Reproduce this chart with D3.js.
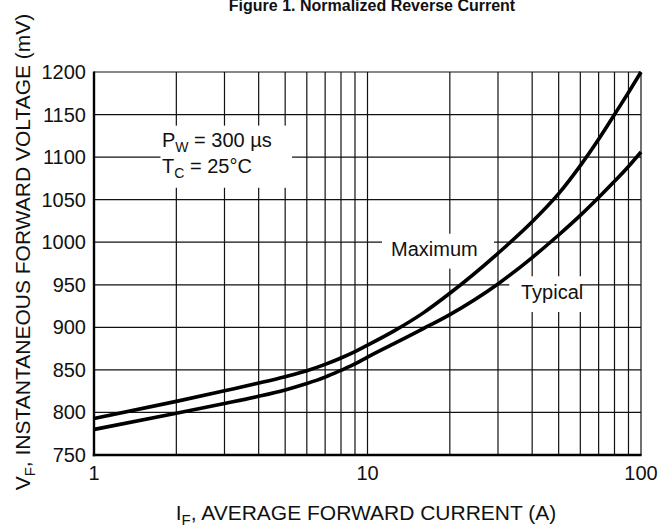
<!DOCTYPE html>
<html>
<head>
<meta charset="utf-8">
<script src="https://cdn.jsdelivr.net/npm/d3@7"></script>
<style>
  html, body { margin: 0; padding: 0; background: #fff; }
  svg { display: block; font-family: "Liberation Sans", Arial, Helvetica, sans-serif; }
</style>
</head>
<body>
<svg id="chart" width="663" height="529"></svg>
<script>
// ---- data ----
const chartTitle = "Figure 1. Normalized Reverse Current";
const currentA   = [1, 2, 3, 4, 5, 6, 7, 8, 9, 10, 12.7, 16, 20, 30, 40, 50, 60, 70, 80, 90, 100];
const maximumMV  = [793, 813, 825.5, 834.5, 842, 849, 856.5, 864, 871.5, 879, 897, 917, 940, 987, 1024, 1057, 1090, 1121, 1150, 1176, 1200];
const typicalMV  = [780, 799, 810.5, 819, 826.5, 834, 841.5, 849.5, 857, 865, 882, 898.5, 915, 951, 982, 1008.5, 1031.5, 1052.5, 1071.5, 1089, 1106];
const yTicks     = [750, 800, 850, 900, 950, 1000, 1050, 1100, 1150, 1200];
const xTickLabels = [1, 10, 100];
const xGrid      = [1,2,3,4,5,6,7,8,9,10,20,30,40,50,60,70,80,90,100];

const svg = d3.select("#chart");
const margin = {left: 94, right: 22, top: 72, bottom: 74};
const W = 663, H = 529;
const x = d3.scaleLog().domain([1, 100]).range([margin.left, W - margin.right]);
const y = d3.scaleLinear().domain([750, 1200]).range([H - margin.bottom, margin.top]);

// grid
const grid = svg.append("g").attr("stroke", "#111").attr("stroke-width", 1.2);
grid.selectAll("line.v").data(xGrid).join("line").attr("class", "v")
  .attr("x1", d => x(d)).attr("x2", d => x(d))
  .attr("y1", y(750)).attr("y2", y(1200));
grid.selectAll("line.h").data(yTicks).join("line").attr("class", "h")
  .attr("x1", x(1)).attr("x2", x(100))
  .attr("y1", d => y(d)).attr("y2", d => y(d));

// white label backgrounds (cover grid lines)
const boxes = [
  {x0: 1.75, x1: 5.3, v0: 1137, v1: 1064},
  {x0: 11.3, x1: 29, v0: 1010, v1: 969},
  {x0: 33, x1: 60.5, v0: 960, v1: 918}
];
svg.append("g").selectAll("rect").data(boxes).join("rect")
  .attr("x", d => x(d.x0)).attr("width", d => x(d.x1) - x(d.x0))
  .attr("y", d => y(d.v0)).attr("height", d => y(d.v1) - y(d.v0))
  .attr("fill", "#fff");

// axes (left and bottom heavy lines)
svg.append("line").attr("x1", x(1)).attr("x2", x(1)).attr("y1", y(1200) - 0.6).attr("y2", y(750) + 1.2)
  .attr("stroke", "#000").attr("stroke-width", 2.4);
svg.append("line").attr("x1", x(1) - 1.2).attr("x2", x(100) + 0.6).attr("y1", y(750)).attr("y2", y(750))
  .attr("stroke", "#000").attr("stroke-width", 2.4);

// tick labels
svg.append("g").selectAll("text").data(yTicks).join("text")
  .attr("x", 86).attr("y", d => y(d)).attr("dy", "0.35em")
  .attr("text-anchor", "end").attr("font-size", 20).attr("fill", "#111")
  .text(d => d);
svg.append("g").selectAll("text").data(xTickLabels).join("text")
  .attr("x", d => x(d)).attr("y", 480)
  .attr("text-anchor", "middle").attr("font-size", 20).attr("fill", "#111")
  .text(d => d);

// curves
const line = d3.line().x(d => x(d[0])).y(d => y(d[1])).curve(d3.curveMonotoneX);
[maximumMV, typicalMV].forEach(series => {
  svg.append("path").datum(currentA.map((c, i) => [c, series[i]]))
    .attr("d", line).attr("fill", "none").attr("stroke", "#000")
    .attr("stroke-width", 3.6).attr("stroke-linecap", "butt");
});

// annotations
const ann = svg.append("g").attr("font-size", 20).attr("fill", "#111");
const t1 = ann.append("text").attr("x", 162).attr("y", 147);
t1.append("tspan").text("P");
t1.append("tspan").attr("font-size", 14).attr("dy", 5).text("W");
t1.append("tspan").attr("dy", -5).text(" = 300 µs");
const t2 = ann.append("text").attr("x", 162).attr("y", 173);
t2.append("tspan").text("T");
t2.append("tspan").attr("font-size", 14).attr("dy", 5).text("C");
t2.append("tspan").attr("dy", -5).text(" = 25°C");
ann.append("text").attr("x", 391).attr("y", 256).text("Maximum");
ann.append("text").attr("x", 521).attr("y", 299).text("Typical");

// axis titles
const xt = svg.append("text").attr("x", 366).attr("y", 520)
  .attr("text-anchor", "middle").attr("font-size", 21).attr("fill", "#111");
xt.append("tspan").text("I");
xt.append("tspan").attr("font-size", 15).attr("dy", 5).text("F");
xt.append("tspan").attr("dy", -5).text(", AVERAGE FORWARD CURRENT (A)");

const yt = svg.append("text").attr("transform", "translate(30,252) rotate(-90)")
  .attr("text-anchor", "middle").attr("font-size", 21).attr("fill", "#111");
yt.append("tspan").text("V");
yt.append("tspan").attr("font-size", 15).attr("dy", 5).text("F");
yt.append("tspan").attr("dy", -5).text(", INSTANTANEOUS FORWARD VOLTAGE (mV)");

// title
svg.append("text").attr("x", 372).attr("y", 11).attr("text-anchor", "middle")
  .attr("font-size", 16).attr("font-weight", "bold").attr("fill", "#111")
  .text(chartTitle);
</script>
</body>
</html>
